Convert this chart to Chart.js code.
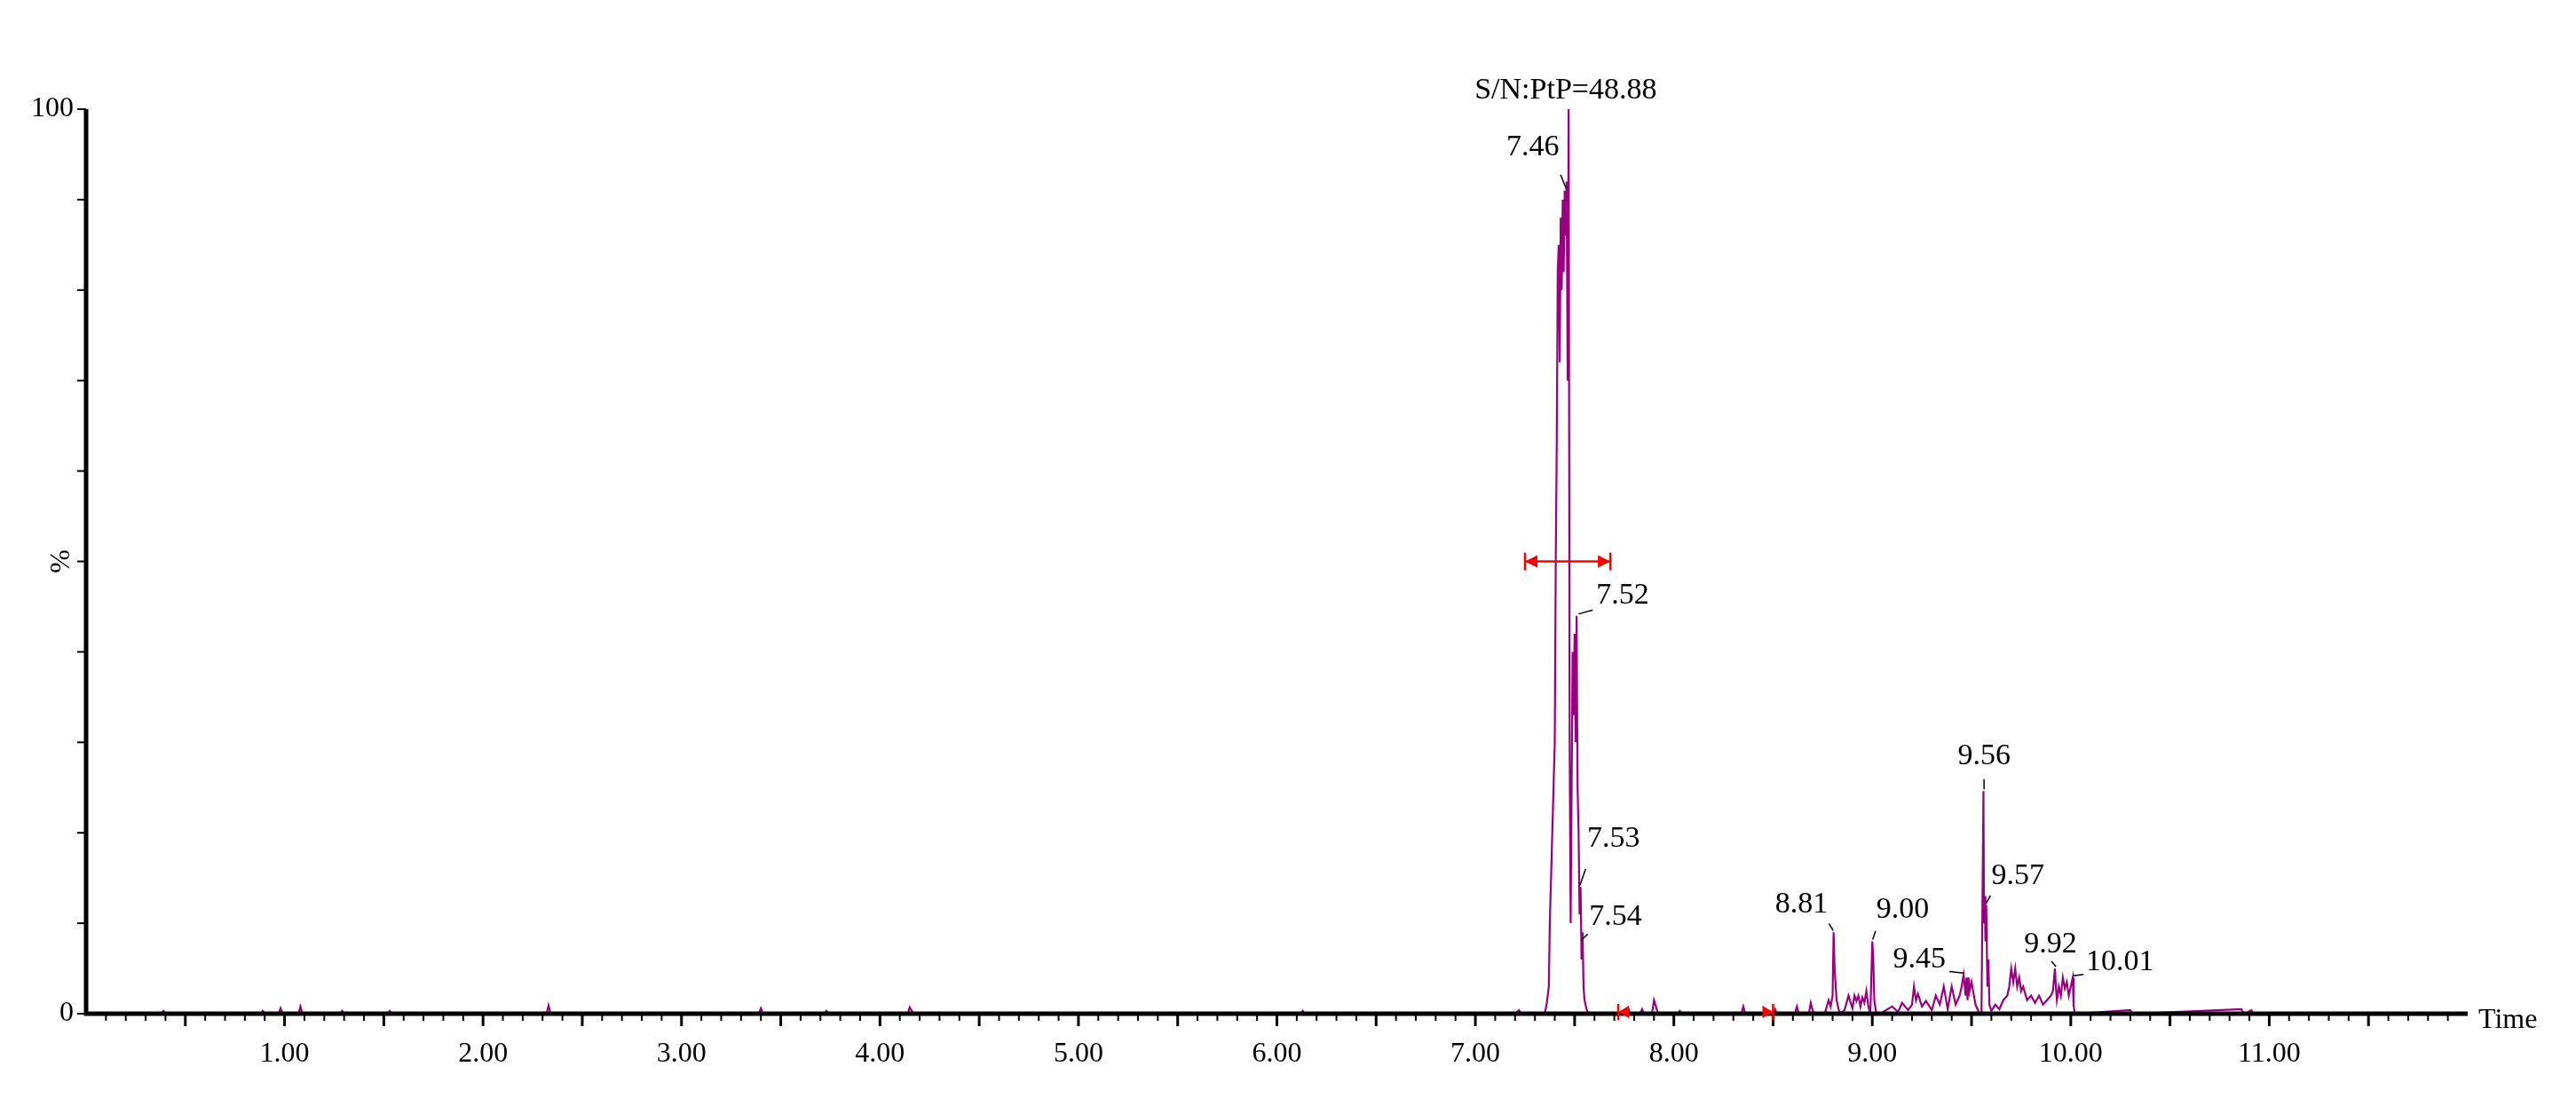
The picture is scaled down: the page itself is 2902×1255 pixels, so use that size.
<!DOCTYPE html>
<html><head><meta charset="utf-8">
<script src="https://cdn.jsdelivr.net/npm/chart.js@4/dist/chart.umd.min.js"></script>
<style>html,body{margin:0;padding:0;background:#fff}#wrap{width:2902px;height:1255px}</style>
</head><body><div id="wrap"><canvas id="c"></canvas></div>
<script>
const times = [0,0.38,0.39,0.40,0.88,0.89,0.90,0.97,0.98,0.99,1.07,1.08,1.09,1.28,1.29,1.30,1.52,1.53,1.54,2.32,2.33,2.34,3.39,3.40,3.41,3.72,3.73,3.74,4.14,4.15,4.16,4.17,6.12,6.13,6.14,
7.20,7.22,7.23,7.35,7.36,7.37,7.375,7.38,7.39,7.40,7.405,7.41,7.415,7.42,7.425,7.43,7.435,7.44,7.445,7.45,7.455,7.46,7.465,7.47,7.475,7.48,7.485,7.49,7.495,7.50,7.505,7.51,7.515,7.52,7.525,7.53,7.535,7.54,7.545,7.55,7.56,7.57,
7.76,7.77,7.78,7.83,7.84,7.85,7.89,7.90,7.91,7.92,8.02,8.03,8.04,8.34,8.35,8.36,8.38,8.50,8.51,8.52,8.61,8.62,8.63,8.68,8.69,8.70,8.71,8.76,8.78,8.79,8.80,8.805,8.81,8.82,8.83,8.84,8.86,8.87,8.88,8.90,8.91,8.92,8.93,8.94,8.95,8.96,8.97,8.98,8.99,9.00,9.005,9.01,9.02,9.04,
9.10,9.13,9.15,9.18,9.20,9.21,9.22,9.23,9.25,9.27,9.30,9.32,9.34,9.36,9.38,9.39,9.40,9.42,9.44,9.45,9.46,9.47,9.475,9.48,9.485,9.49,9.50,9.52,9.54,9.55,9.56,9.563,9.567,9.57,9.574,9.58,9.585,9.59,9.60,9.62,9.64,9.66,9.68,9.69,9.70,9.71,9.72,9.73,9.74,9.75,9.76,9.78,9.80,9.82,9.84,9.86,9.88,9.90,9.91,9.92,9.925,9.93,9.94,9.95,9.96,9.97,9.98,9.99,10.00,10.01,10.014,10.02,10.03,
10.30,10.31,10.32,10.86,10.87,10.88,10.91,10.92,10.93,12];
const intensity = [0,0,0.3,0,0,0.3,0,0,0.6,0,0,0.8,0,0,0.3,0,0,0.3,0,0,0.9,0,0,0.6,0,0,0.3,0,0,0.7,0.3,0,0,0.3,0,
0,0.4,0,0,1.2,3,10,14,22,30,50,63,82,85,72,88,80,90,82,91,86,92,70,100,30,10,25,40,33,42,30,44,25,20,11,14,6,9,3,1.5,0.5,0,
0,0.6,0,0,0.5,0,0,1.5,0.8,0,0,0.3,0,0,0.8,0,0,0,0.5,0,0,0.8,0,0,1.2,0.3,0,0,1.5,0.8,2,9,5,1.5,0.5,0,0.4,1.2,2,0.6,2,1.4,2,0.8,1.8,1.2,2.5,0.8,0,8,6,1.5,0,0,
0.8,0.2,1.2,0.4,1,3,1.5,2.2,0.8,1.4,0.4,2,1,3,0.5,1.8,3,1,2,3,4.3,2,4,1.5,4,2.5,3.5,1,0,0,24.6,10,13,8,12,3,6,1,0.3,1,0.5,1.5,2,3,5,3.5,5,3,4,2.5,3,1.5,2,1.2,2,1,1.5,2,2.5,5,3,1.5,3,2,4,2.8,3.5,2,3,4,1,0,
0,0.4,0,0,0.5,0,0,0.4,0,0];
const peakLabels = ['7.46','7.52','7.53','7.54','8.81','9.00','9.45','9.56','9.57','9.92','10.01'];
const peakTimes = [7.458,7.52,7.527,7.537,8.803,9.002,9.46,9.563,9.574,9.925,10.014];
const peakValues = [91,44,14,8,9,8,4.3,24.6,12,5,4];
const snText = 'S/N:PtP=48.88';
const widthArrow = [7.25,7.68,50];
const baselineMarks = [7.72,8.50];
const yLabels = ['0','100'];

const pts = times.map((t,i)=>({x:t,y:intensity[i]}));
const FONT = '"Liberation Serif", "Times New Roman", serif';
// label offsets (px): [dx, dy, align]
const offs = [[-8,-40,'right'],[20,-14,'left'],[8,-45,'left'],[8,-18,'left'],[-6,-22,'right'],[4,-26,'left'],[-20,-8,'right'],[0,-30,'center'],[6,-24,'left'],[-6,-18,'center'],[14,-8,'left']];

const deco = {
  id:'deco',
  afterDraw(ch){
    const c=ch.ctx,x=ch.scales.x,y=ch.scales.y,a=ch.chartArea;
    c.save();
    c.strokeStyle='#000';c.lineWidth=5;
    c.beginPath();c.moveTo(a.left,a.top);c.lineTo(a.left,a.bottom);c.lineTo(a.right,a.bottom);c.stroke();
    c.lineWidth=2;
    for(let v=0;v<=100;v+=10){const p=y.getPixelForValue(v);c.beginPath();c.moveTo(a.left-10,p);c.lineTo(a.left,p);c.stroke();}
    for(let k=1;k<120;k++){const p=x.getPixelForValue(k/10);const L=(k%5==0)?14:8;c.lineWidth=(k%5==0)?3:2;c.beginPath();c.moveTo(p,a.bottom);c.lineTo(p,a.bottom+L);c.stroke();}
    c.fillStyle='#000';c.font='32px '+FONT;
    c.textAlign='left';c.textBaseline='middle';c.fillText('Time',a.right+12,a.bottom+8);
    c.save();c.translate(70,y.getPixelForValue(50));c.rotate(-Math.PI/2);c.textAlign='center';c.fillText('%',0,0);c.restore();
    c.textAlign='right';
    c.fillText(yLabels[0],a.left-14,y.getPixelForValue(0));
    c.fillText(yLabels[1],a.left-14,y.getPixelForValue(100));
    // peak labels
    c.font='34px '+FONT;c.textBaseline='alphabetic';
    c.textAlign='center';c.fillText(snText,x.getPixelForValue(7.455),y.getPixelForValue(100)-12);
    c.lineWidth=1.5;
    peakLabels.forEach((s,i)=>{
      const px=x.getPixelForValue(peakTimes[i]),py=y.getPixelForValue(peakValues[i]);
      const o=offs[i];
      c.beginPath();c.moveTo(px,py-2);c.lineTo(px+o[0]*0.8,py+o[1]*0.45);c.stroke();
      c.textAlign=o[2];c.fillText(s,px+o[0],py+o[1]);
    });
    // red width arrow
    c.strokeStyle='#ff0000';c.fillStyle='#ff0000';c.lineWidth=2.5;
    const x1=x.getPixelForValue(widthArrow[0]),x2=x.getPixelForValue(widthArrow[1]),ay=y.getPixelForValue(widthArrow[2]);
    c.beginPath();c.moveTo(x1,ay);c.lineTo(x2,ay);c.moveTo(x1,ay-10);c.lineTo(x1,ay+10);c.moveTo(x2,ay-10);c.lineTo(x2,ay+10);c.stroke();
    c.beginPath();c.moveTo(x1,ay);c.lineTo(x1+14,ay-7);c.lineTo(x1+14,ay+7);c.fill();
    c.beginPath();c.moveTo(x2,ay);c.lineTo(x2-14,ay-7);c.lineTo(x2-14,ay+7);c.fill();
    baselineMarks.forEach((t,i)=>{const p=x.getPixelForValue(t),b=a.bottom-2;
      c.beginPath();c.moveTo(p,b-9);c.lineTo(p,b+9);c.stroke();
      const d=i==0?1:-1;c.beginPath();c.moveTo(p,b);c.lineTo(p+d*12,b-7);c.lineTo(p+d*12,b+7);c.fill();});
    c.restore();
  }
};

new Chart(document.getElementById('c'),{
  type:'scatter',
  data:{datasets:[{data:pts,showLine:true,pointRadius:0,borderColor:'#990080',borderWidth:2.2,tension:0}]},
  options:{
    responsive:true,maintainAspectRatio:false,animation:false,
    layout:{padding:{top:123,right:122,left:0,bottom:0}},
    plugins:{legend:{display:false},tooltip:{enabled:false}},
    scales:{
      x:{type:'linear',min:0,max:12,border:{display:false},grid:{display:false},
        afterFit(s){s.height=113;},
        ticks:{stepSize:0.1,autoSkip:false,maxRotation:0,padding:18,color:'#000',font:{family:FONT,size:32},
          callback(v){const r=Math.round(v);return (Math.abs(v-r)<1e-6&&r>0&&r<12)?r.toFixed(2):'';}}},
      y:{min:0,max:100,border:{display:false},grid:{display:false},
        afterFit(s){s.width=97;},
        ticks:{display:false}}
    }
  },
  plugins:[deco]
});
</script></body></html>
